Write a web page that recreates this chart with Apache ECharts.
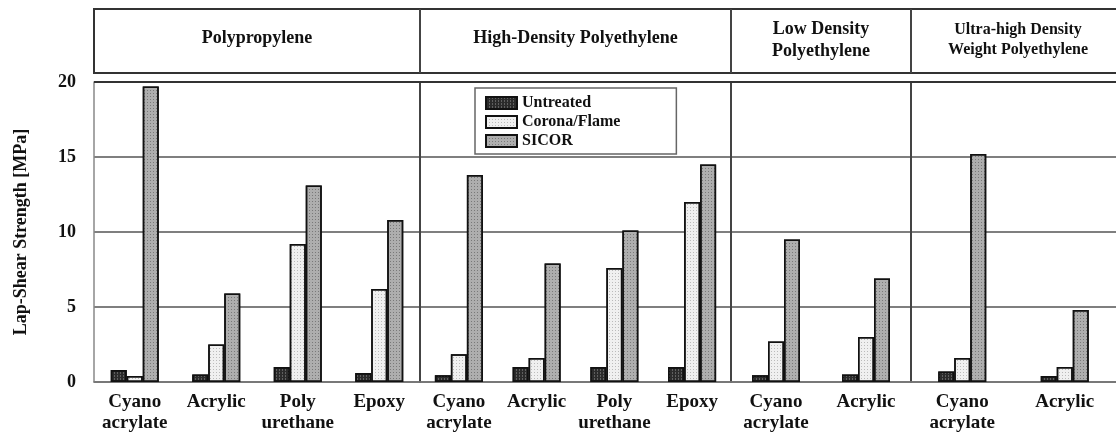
<!DOCTYPE html>
<html>
<head>
<meta charset="utf-8">
<script src="https://cdn.jsdelivr.net/npm/echarts@6/dist/echarts.min.js"></script>
<style>
  html, body { margin: 0; padding: 0; background: #fff; }
  #chart { width: 1116px; height: 434px; }
</style>
</head>
<body>
<div id="chart"></div>
<script>
// data (MPa)
const sections = ["Polypropylene", "High-Density Polyethylene", "Low Density\nPolyethylene", "Ultra-high Density\nWeight Polyethylene"];
const sectionSizes = [4, 4, 2, 2];
const categories = [
  "Cyano\nacrylate", "Acrylic", "Poly\nurethane", "Epoxy",
  "Cyano\nacrylate", "Acrylic", "Poly\nurethane", "Epoxy",
  "Cyano\nacrylate", "Acrylic",
  "Cyano\nacrylate", "Acrylic",
];
const treatments = ["Untreated", "Corona/Flame", "SICOR"];
const untreated = [0.8, 0.5, 1.0, 0.6, 0.45, 1.0, 1.0, 1.0, 0.45, 0.5, 0.7, 0.4];
const corona = [0.4, 2.5, 9.2, 6.2, 1.85, 1.6, 7.6, 12.0, 2.7, 3.0, 1.6, 1.0];
const sicor = [19.7, 5.9, 13.1, 10.8, 13.8, 7.9, 10.1, 14.5, 9.5, 6.9, 15.2, 4.8];
const yTicks = [0, 5, 10, 15, 20];

// layout
const sectionLeft = [94, 420, 731, 911];
const sectionWidth = [326, 311, 180, 208];
const plotTop = 82, plotHeight = 300;
const headTop = 9, headBottom = 73;

const FONT = "'Liberation Serif', 'DejaVu Serif', serif";
const styles = [
  { color: "#2b2b2b", borderColor: "#111", decal: { symbol: "rect", symbolSize: 1, dashArrayX: [1, 2], dashArrayY: [2, 1], color: "rgba(255,255,255,0.25)" } },
  { color: "#f0f0f0", borderColor: "#111", decal: { symbol: "rect", symbolSize: 1, dashArrayX: [1, 2], dashArrayY: [1, 2], color: "rgba(0,0,0,0.22)" } },
  { color: "#aeaeae", borderColor: "#111", decal: { symbol: "rect", symbolSize: 1, dashArrayX: [1, 2], dashArrayY: [1, 2], color: "rgba(0,0,0,0.3)" } },
];
const values = [untreated, corona, sicor];

const grid = [], xAxis = [], yAxis = [], series = [], graphic = [];
let start = 0;
sectionSizes.forEach((n, g) => {
  grid.push({ left: sectionLeft[g], width: sectionWidth[g], top: plotTop, height: plotHeight });
  xAxis.push({
    type: "category",
    gridIndex: g,
    data: categories.slice(start, start + n),
    axisLine: { show: true, lineStyle: { color: "#777", width: 1.5 } },
    axisTick: { show: false },
    axisLabel: { interval: 0, margin: 10, color: "#111", fontFamily: FONT, fontWeight: "bold", fontSize: 19, lineHeight: 21 },
  });
  yAxis.push({
    type: "value",
    gridIndex: g,
    min: 0,
    max: 20,
    interval: 5,
    name: g === 0 ? "Lap-Shear Strength [MPa]" : "",
    nameLocation: "middle",
    nameGap: 64,
    nameTextStyle: { color: "#111", fontFamily: FONT, fontWeight: "bold", fontSize: 18 },
    axisLine: { show: true, lineStyle: { color: g === 0 ? "#888" : "#444", width: g === 0 ? 1.5 : 2 } },
    axisTick: { show: false },
    axisLabel: { show: g === 0, margin: 18, color: "#111", fontFamily: FONT, fontWeight: "bold", fontSize: 18,
      formatter: (v) => (yTicks.includes(v) ? String(v) : "") },
    splitLine: { show: true, lineStyle: { color: "#555", width: 1.5 } },
  });
  treatments.forEach((name, t) => {
    series.push({
      name,
      type: "bar",
      xAxisIndex: g,
      yAxisIndex: g,
      barWidth: 16,
      barGap: "0%",
      data: values[t].slice(start, start + n),
      itemStyle: { ...styles[t], borderWidth: 1.5 },
    });
  });
  // header cell
  const twoLines = sections[g].includes("\n");
  graphic.push({
    type: "text",
    x: sectionLeft[g] + (g === 3 ? 107 : sectionWidth[g] / 2),
    y: twoLines ? (headTop + headBottom) / 2 - 1 : 38,
    style: {
      text: sections[g],
      textAlign: "center",
      textVerticalAlign: "middle",
      font: `bold ${g === 3 ? 16 : 18}px ${FONT}`,
      lineHeight: g === 3 ? 20 : 22,
      fill: "#111",
    },
  });
  if (g > 0) {
    graphic.push({
      type: "line",
      shape: { x1: sectionLeft[g], y1: headTop, x2: sectionLeft[g], y2: headBottom },
      style: { stroke: "#444", lineWidth: 2 },
    });
  }
  start += n;
});

graphic.unshift({
  type: "rect",
  shape: { x: sectionLeft[0], y: headTop, width: 1116, height: headBottom - headTop },
  style: { fill: "none", stroke: "#333", lineWidth: 2 },
});
graphic.push({
  type: "line",
  shape: { x1: sectionLeft[0], y1: plotTop, x2: 1116, y2: plotTop },
  style: { stroke: "#333", lineWidth: 2 },
  z: 10,
});

const chart = echarts.init(document.getElementById("chart"));
chart.setOption({
  animation: false,
  backgroundColor: "#fff",
  legend: {
    data: treatments,
    icon: "rect",
    orient: "vertical",
    left: 475,
    top: 88,
    padding: [7, 56, 5, 10],
    itemWidth: 31,
    itemHeight: 12,
    itemGap: 3,
    backgroundColor: "#fff",
    borderColor: "#666",
    borderWidth: 1.5,
    borderRadius: 0,
    textStyle: { color: "#111", fontFamily: FONT, fontWeight: "bold", fontSize: 16 },
  },
  grid,
  xAxis,
  yAxis,
  series,
  graphic,
});
</script>
</body>
</html>
